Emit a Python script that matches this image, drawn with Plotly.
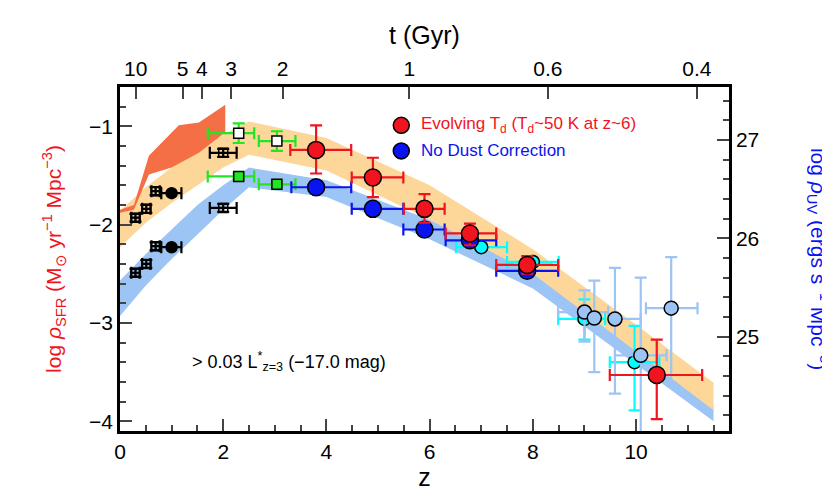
import numpy as np
import plotly.graph_objects as go

# ---- bands ----
band_z = [0, 0.5, 1, 1.5, 2, 2.5, 4, 6, 8, 10, 11.5]
orange_top = [-1.86, -1.62, -1.42, -1.25, -1.08, -0.95, -1.12, -1.60, -2.25, -3.02, -3.61]
orange_bot = [-2.23, -1.98, -1.78, -1.60, -1.42, -1.29, -1.45, -1.95, -2.50, -3.29, -3.89]
blue_top = [-2.57, -2.30, -2.05, -1.80, -1.60, -1.42, -1.55, -1.95, -2.45, -3.25, -3.85]
blue_bot = [-2.93, -2.62, -2.35, -2.10, -1.85, -1.62, -1.72, -2.15, -2.65, -3.42, -4.00]
wedge_z_top = [0.0, 0.27, 0.56, 1.14, 1.53, 2.04]
wedge_top = [-1.85, -1.80, -1.30, -0.99, -0.96, -0.78]
wedge_z_bot = [2.04, 1.53, 1.0, 0.56, 0.27, 0.0]
wedge_bot = [-1.06, -1.27, -1.42, -1.49, -1.85, -1.88]

# ---- evolving Td (red) ----
red_z = [3.80, 4.90, 5.90, 6.78, 7.89, 10.40]
red_y = [-1.24, -1.52, -1.84, -2.09, -2.41, -3.53]
red_xlo = [0.50, 0.41, 0.40, 0.47, 0.60, 0.91]
red_xhi = [0.68, 0.59, 0.39, 0.51, 0.60, 0.88]
red_ylo = [0.24, 0.20, 0.14, 0.12, 0.09, 0.45]
red_yhi = [0.25, 0.20, 0.15, 0.10, 0.09, 0.36]
# ---- no dust correction (blue) ----
blue_z = [3.80, 4.90, 5.90, 6.78, 7.89]
blue_y = [-1.62, -1.84, -2.05, -2.16, -2.47]
blue_xlo = [0.48, 0.41, 0.41, 0.47, 0.60]
blue_xhi = [0.68, 0.59, 0.39, 0.51, 0.60]
# ---- light blue points ----
lb_z = [9.00, 9.19, 9.59, 10.09, 10.68]
lb_y = [-2.89, -2.95, -2.96, -3.33, -2.85]
lb_xlo = [0.51, 0.0, 0.0, 0.50, 0.49]
lb_xhi = [0.46, 0.0, 0.50, 0.50, 0.51]
lb_ylo = [0.30, 0.55, 0.76, 0.80, 0.76]
lb_yhi = [0.22, 0.38, 0.52, 0.79, 0.52]
# ---- cyan points ----
cy_z = [7.00, 8.00, 9.00, 9.97]
cy_y = [-2.23, -2.38, -2.96, -3.40]
cy_xlo = [0.49, 0.5, 0.51, 0.48]
cy_xhi = [0.50, 0.5, 0.40, 0.48]
cy_ylo = [0.03, 0.03, 0.21, 0.49]
cy_yhi = [0.03, 0.03, 0.20, 0.37]
# ---- green (z~2-3) ----
gr_z = [2.30, 3.04]
gr_up = [-1.07, -1.15]
gr_lo = [-1.51, -1.59]
gr_xlo = [0.60, 0.35]
gr_xhi = [0.30, 0.36]
gr_eup = [0.10, 0.10]
# ---- black low-z ----
bk_z = [0.30, 0.51, 0.69, 2.00]
bk_up = [-1.93, -1.84, -1.66, -1.27]
bk_lo = [-2.49, -2.40, -2.22, -1.83]
bk_xe = [0.08, 0.08, 0.08, 0.26]
bc_z = [1.00]
bc_up = [-1.68]
bc_lo = [-2.23]

OFFSET = 28.14
YR = [-4.10, -0.60]
XR = [0, 11.8]

# top axis: ages in Gyr -> z (flat LCDM, H0=70, Om=0.3)
t_ticks = [10, 5, 4, 3, 2, 1, 0.6, 0.4]
t_labels = ["10", "5", "4", "3", "2", "1", "0.6", "0.4"]
tH = 977.8 / 70.0
OL, Om = 0.7, 0.3
def z_of_t(t):
    s = np.sinh(t * 3 * np.sqrt(OL) / (2 * tH)) / np.sqrt(OL / Om)
    return s ** (-2.0 / 3.0) - 1
t_z = [float(z_of_t(t)) for t in t_ticks]

fig = go.Figure()
fig.add_trace(go.Scatter(x=band_z + band_z[::-1], y=blue_top + blue_bot[::-1], fill="toself",
                         fillcolor="#9CC4F4", line=dict(width=0), mode="lines", hoverinfo="skip", showlegend=False))
fig.add_trace(go.Scatter(x=band_z + band_z[::-1], y=orange_top + orange_bot[::-1], fill="toself",
                         fillcolor="#FDD69A", line=dict(width=0), mode="lines", hoverinfo="skip", showlegend=False))
fig.add_trace(go.Scatter(x=wedge_z_top + wedge_z_bot, y=wedge_top + wedge_bot, fill="toself",
                         fillcolor="#F46F45", line=dict(width=0), mode="lines", hoverinfo="skip", showlegend=False))

def pts(x, y, color, mcolor, symbol, size, xlo=None, xhi=None, ylo=None, yhi=None, lw=1.5):
    kw = {}
    if xlo is not None:
        kw["error_x"] = dict(type="data", symmetric=False, array=xhi, arrayminus=xlo, color=color, thickness=2.2, width=6)
    if ylo is not None:
        kw["error_y"] = dict(type="data", symmetric=False, array=yhi, arrayminus=ylo, color=color, thickness=2.2, width=6)
    fig.add_trace(go.Scatter(x=x, y=y, mode="markers", showlegend=False,
                             marker=dict(color=mcolor, symbol=symbol, size=size, line=dict(color="black", width=lw)), **kw))

pts(bk_z, bk_up, "black", "black", "square-cross-open", 9, bk_xe, bk_xe, [0.04]*4, [0.04]*4)
pts(bk_z, bk_lo, "black", "black", "square-cross-open", 9, bk_xe, bk_xe, [0.04]*4, [0.04]*4)
pts(bc_z, bc_up, "black", "black", "circle", 11, [0.2], [0.19])
pts(bc_z, bc_lo, "black", "black", "circle", 11, [0.2], [0.19])
pts(gr_z, gr_up, "#22E622", "white", "square", 10, gr_xlo, gr_xhi, gr_eup, gr_eup)
pts(gr_z, gr_lo, "#22E622", "#22E622", "square", 10, gr_xlo, gr_xhi, [0.03, 0.03], [0.03, 0.03])
pts(cy_z, cy_y, "cyan", "cyan", "circle", 13, cy_xlo, cy_xhi, cy_ylo, cy_yhi)
pts(lb_z, lb_y, "#9CC4F4", "#9CC4F4", "circle", 14, lb_xlo, lb_xhi, lb_ylo, lb_yhi)
pts(blue_z, blue_y, "#0A14F0", "#0A14F0", "circle", 17, blue_xlo, blue_xhi)
pts(red_z, red_y, "#F0141E", "#F0141E", "circle", 17, red_xlo, red_xhi, red_ylo, red_yhi)

fig.add_trace(go.Scatter(x=XR, y=[YR[0]+OFFSET, YR[1]+OFFSET], xaxis="x2", yaxis="y2", mode="markers",
                         marker=dict(opacity=0), hoverinfo="skip", showlegend=False))

fnt = dict(family="Liberation Sans, Arial", size=21, color="black")
common = dict(ticks="inside", ticklen=12, tickwidth=2, showline=True, linecolor="black", linewidth=2.5,
              showgrid=False, zeroline=False, automargin=False)
fig.update_layout(
    width=830, height=499, margin=dict(l=112, r=109, t=79, b=76),
    paper_bgcolor="white", plot_bgcolor="white", font=fnt,
    xaxis=dict(range=XR, tickvals=[0, 2, 4, 6, 8, 10],
               minor=dict(dtick=0.5, tick0=0, ticks="inside", ticklen=6, tickwidth=2),
               title=dict(text="z", standoff=2), **common),
    yaxis=dict(range=YR, dtick=1, tick0=-4, tickformat="d",
               minor=dict(dtick=0.2, tick0=-4, ticks="inside", ticklen=6, tickwidth=2),
               title=dict(text="log <i>ρ</i><sub>SFR</sub> (M<sub>⊙</sub> yr<sup>−1</sup> Mpc<sup>−3</sup>)",
                          font=dict(color="#F0141E", size=21), standoff=22), **common),
    xaxis2=dict(range=XR, overlaying="x", side="top", tickvals=t_z, ticktext=t_labels,
                title=dict(text="t (Gyr)", standoff=6), **common),
    yaxis2=dict(range=[YR[0]+OFFSET, YR[1]+OFFSET], overlaying="y", side="right", dtick=1, tick0=25,
                tickformat="d",
                minor=dict(dtick=0.2, tick0=25, ticks="inside", ticklen=6, tickwidth=2), **common),
)

leg_y = [-0.99, -1.25]
fig.add_trace(go.Scatter(x=[5.45], y=[leg_y[0]], mode="markers", showlegend=False,
                         marker=dict(color="#F0141E", size=16, line=dict(color="black", width=1.5))))
fig.add_trace(go.Scatter(x=[5.45], y=[leg_y[1]], mode="markers", showlegend=False,
                         marker=dict(color="#0A14F0", size=16, line=dict(color="black", width=1.5))))
fig.add_annotation(x=5.8, y=leg_y[0], xanchor="left", showarrow=False,
                   text="Evolving T<sub>d</sub> (T<sub>d</sub>~50 K at z~6)", font=dict(color="#F0141E", size=17))
fig.add_annotation(x=5.8, y=leg_y[1], xanchor="left", showarrow=False,
                   text="No Dust Correction", font=dict(color="#0A14F0", size=17))
fig.add_annotation(x=1.35, y=-3.39, xanchor="left", showarrow=False,
                   text="> 0.03 L<sup>*</sup><sub>z=3</sub> (−17.0 mag)", font=dict(color="black", size=18))
fig.add_annotation(xref="paper", yref="paper", x=1.175, y=0.5, textangle=90, showarrow=False,
                   text="log <i>ρ</i><sub>UV</sub> (ergs s<sup>−1</sup> Mpc<sup>−3</sup>)",
                   font=dict(color="#0A14F0", size=21))

fig.write_html("out.html")
